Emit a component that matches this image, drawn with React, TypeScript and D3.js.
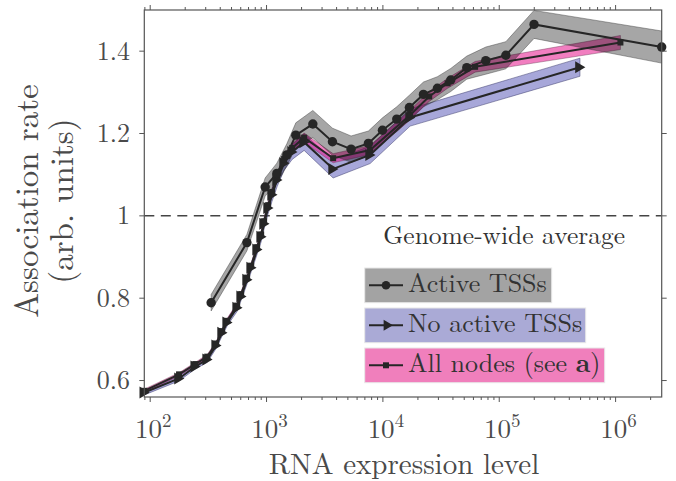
import React from 'react';
import * as d3 from 'd3';

// ---- data ----
const activeX = [334, 678, 973, 1227, 1494, 1785, 2500, 3685, 5330, 7500, 9910, 13160, 16890, 22300, 29400, 38300, 52600, 76600, 114000, 199000, 2490000];
const activeY = [0.789, 0.935, 1.07, 1.103, 1.148, 1.196, 1.223, 1.18, 1.162, 1.176, 1.208, 1.235, 1.263, 1.295, 1.31, 1.33, 1.36, 1.377, 1.39, 1.465, 1.41];
const activeErr = [0.02, 0.02, 0.022, 0.025, 0.027, 0.03, 0.033, 0.033, 0.032, 0.03, 0.03, 0.03, 0.03, 0.03, 0.028, 0.028, 0.028, 0.033, 0.033, 0.034, 0.039];

const noActiveX = [89, 177, 244, 309, 369, 415, 459, 559, 605, 681, 738, 830, 899, 953, 1032, 1117, 1233, 1416, 1660, 2104, 3735, 7762, 17140, 494000];
const noActiveY = [0.571, 0.605, 0.634, 0.651, 0.685, 0.716, 0.741, 0.777, 0.804, 0.845, 0.874, 0.918, 0.949, 0.981, 1.019, 1.051, 1.087, 1.128, 1.155, 1.179, 1.114, 1.148, 1.239, 1.361];
const noActiveErr = [0.006, 0.006, 0.006, 0.007, 0.007, 0.008, 0.008, 0.009, 0.009, 0.01, 0.01, 0.011, 0.012, 0.013, 0.014, 0.015, 0.016, 0.017, 0.018, 0.02, 0.022, 0.021, 0.021, 0.022];

const allX = [89, 177, 244, 309, 369, 415, 459, 559, 605, 681, 738, 830, 899, 953, 1032, 1117, 1233, 1416, 1660, 2104, 3735, 7762, 17140, 25000, 36000, 62000, 1100000];
const allY = [0.575, 0.615, 0.64, 0.658, 0.69, 0.72, 0.745, 0.782, 0.81, 0.85, 0.879, 0.924, 0.955, 0.987, 1.026, 1.058, 1.095, 1.138, 1.165, 1.19, 1.14, 1.16, 1.245, 1.29, 1.322, 1.362, 1.421];
const allErr = [0.004, 0.004, 0.004, 0.005, 0.005, 0.005, 0.006, 0.006, 0.006, 0.007, 0.007, 0.007, 0.008, 0.008, 0.008, 0.009, 0.009, 0.01, 0.01, 0.011, 0.011, 0.011, 0.012, 0.012, 0.012, 0.013, 0.017];

const yTicks = [0.6, 0.8, 1, 1.2, 1.4];
const yTickLabels = ['0.6', '0.8', '1', '1.2', '1.4'];
const xDecades = [2, 3, 4, 5, 6];
const legendLabels = ['Active TSSs', 'No active TSSs', 'All nodes (see '];
const referenceLevel = 1;

const TEXT = '#4a4a4a';
const FONT = "'Latin Modern Roman', 'Liberation Serif', serif";
const tf: React.CSSProperties = { fontFamily: FONT };

export default function App() {
  const W = 676, H = 481;
  const left = 144.3, right = 661.7, top = 10, bottom = 397;
  const x = d3.scaleLog().domain([noActiveX[0], activeX[activeX.length - 1]]).range([left, right]);
  const y = d3.scaleLinear().domain([0.56, 1.5]).range([bottom, top]);

  type P = { x: number; y: number; e: number };
  const mk = (xs: number[], ys: number[], es: number[]): P[] => xs.map((v, i) => ({ x: v, y: ys[i], e: es[i] }));
  const active = mk(activeX, activeY, activeErr);
  const noActive = mk(noActiveX, noActiveY, noActiveErr);
  const all = mk(allX, allY, allErr);

  const line = d3.line<P>().x(d => x(d.x)).y(d => y(d.y));
  const area = d3.area<P>().x(d => x(d.x)).y0(d => y(d.y - d.e)).y1(d => y(d.y + d.e));

  const minorTicks: number[] = [];
  for (let d = 1; d <= 6; d++) {
    for (let m = 1; m <= 9; m++) {
      const v = m * Math.pow(10, d);
      if (v >= x.domain()[0] && v <= x.domain()[1]) minorTicks.push(v);
    }
  }

  const LINE = '#262626';
  const tri = (cx: number, cy: number, s = 5.5) => `M${cx - s * 0.8},${cy - s} L${cx + s * 0.9},${cy} L${cx - s * 0.8},${cy + s} Z`;

  const legendY = [268, 308, 348];
  const legendW = [187, 221, 240];
  const legendFill = ['#a3a3a3', '#aaaad6', '#f07fbc'];

  return (
    <svg width={W} height={H} style={{ position: 'absolute', left: 0, top: 0, background: '#fff', fontFamily: FONT }}>
      <defs>
        <clipPath id="plotclip">
          <rect x={left} y={top} width={right - left} height={bottom - top} />
        </clipPath>
      </defs>
      <rect x={0} y={0} width={W} height={H} fill="#fff" />

      {/* dashed reference */}
      <line x1={left} x2={right} y1={y(referenceLevel)} y2={y(referenceLevel)} stroke="#444" strokeWidth={1.5} strokeDasharray="10,6.5" />

      {/* bands */}
      <g clipPath="url(#plotclip)">
        <path d={area(noActive) || ''} fill="rgb(80,80,180)" fillOpacity={0.5} stroke="#3a3a6a" strokeOpacity={0.7} strokeWidth={0.7} />
        <path d={area(all) || ''} fill="rgb(230,20,140)" fillOpacity={0.55} stroke="#6a3a55" strokeOpacity={0.6} strokeWidth={0.7} />
        <path d={area(active) || ''} fill="#000" fillOpacity={0.35} stroke="#333" strokeOpacity={0.6} strokeWidth={0.7} />
      </g>

      {/* lines */}
      <path d={line(noActive) || ''} fill="none" stroke={LINE} strokeWidth={2} />
      <path d={line(all) || ''} fill="none" stroke={LINE} strokeWidth={2} />
      <path d={line(active) || ''} fill="none" stroke={LINE} strokeWidth={2} />

      {/* markers */}
      {noActive.map((d, i) => <path key={'t' + i} d={tri(x(d.x), y(d.y), 6)} fill={LINE} />)}
      {all.map((d, i) => <rect key={'s' + i} x={x(d.x) - 3} y={y(d.y) - 3} width={6} height={6} fill={LINE} />)}
      {active.map((d, i) => <circle key={'c' + i} cx={x(d.x)} cy={y(d.y)} r={4.7} fill={LINE} />)}

      {/* axes box */}
      <rect x={left} y={top} width={right - left} height={bottom - top} fill="none" stroke="#555" strokeWidth={1.2} />
      {minorTicks.map((v, i) => {
        const major = Math.abs(Math.log10(v) - Math.round(Math.log10(v))) < 1e-9;
        const len = major ? 5 : 3;
        return (
          <g key={'mt' + i} stroke="#555" strokeWidth={1}>
            <line x1={x(v)} x2={x(v)} y1={bottom} y2={bottom + len} />
            <line x1={x(v)} x2={x(v)} y1={top} y2={top - len} />
          </g>
        );
      })}
      {yTicks.map((v, i) => (
        <g key={'yt' + i}>
          <line x1={left - 5} x2={left} y1={y(v)} y2={y(v)} stroke="#555" strokeWidth={1} />
          <line x1={right} x2={right + 5} y1={y(v)} y2={y(v)} stroke="#555" strokeWidth={1} />
          <text style={tf} x={130} y={y(v) + 8.5} textAnchor="end" fontSize={26} fill={TEXT}>{yTickLabels[i]}</text>
        </g>
      ))}
      {xDecades.map((d, i) => (
        <text style={tf} key={'xl' + i} x={x(Math.pow(10, d)) + 3} y={438} textAnchor="middle" fontSize={27} fill={TEXT}>
          10<tspan dy={-11} fontSize={19}>{d}</tspan>
        </text>
      ))}

      {/* axis labels */}
      <text style={tf} x={404} y={473.5} textAnchor="middle" fontSize={29} fill={TEXT}>RNA expression level</text>
      <g transform="translate(38,201) rotate(-90)">
        <text style={tf} x={0} y={0} textAnchor="middle" fontSize={33} fill={TEXT}>Association rate</text>
      </g>
      <g transform="translate(73,201) rotate(-90)">
        <text style={tf} x={0} y={0} textAnchor="middle" fontSize={33} fill={TEXT}>(arb. units)</text>
      </g>

      {/* annotation */}
      <text style={tf} x={383.3} y={244} fontSize={25.5} fill="#333">Genome-wide average</text>

      {/* legend */}
      {legendLabels.map((lab, i) => {
        const by = legendY[i];
        const cy = by + 17.3;
        return (
          <g key={'lg' + i}>
            <rect x={364.7} y={by} width={legendW[i]} height={34.7} fill={legendFill[i]} stroke="#e8e8e8" strokeWidth={1} />
            <line x1={369} x2={403} y1={cy} y2={cy} stroke={LINE} strokeWidth={2} />
            {i === 0 && <circle cx={386} cy={cy} r={4.3} fill={LINE} />}
            {i === 1 && <path d={tri(388, cy)} fill={LINE} />}
            {i === 2 && <rect x={383} y={cy - 3} width={6} height={6} fill={LINE} />}
            <text style={tf} x={408} y={by + 24} fontSize={26} fill="#333">
              {lab}
              {i === 2 && <tspan fontWeight="bold">a</tspan>}
              {i === 2 && <tspan>)</tspan>}
            </text>
          </g>
        );
      })}
    </svg>
  );
}
